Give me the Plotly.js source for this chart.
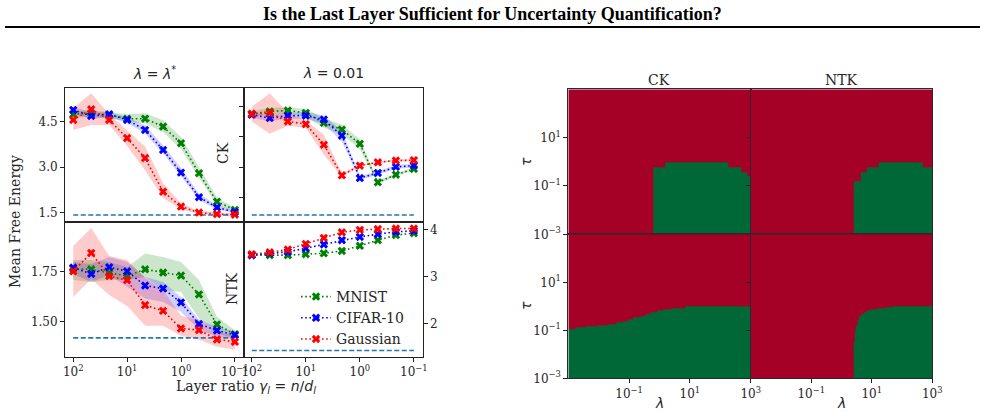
<!DOCTYPE html>
<html>
<head>
<meta charset="utf-8">
<script src="https://cdn.plot.ly/plotly-3.0.1.min.js"></script>
<style>
  html, body { margin: 0; padding: 0; background: #ffffff; }
  #chart { width: 985px; height: 412px; }
</style>
</head>
<body>
<div id="chart"></div>
<script>
// ---------------------------------------------------------------------------
// Data
// ---------------------------------------------------------------------------
// Layer ratio gamma_l = n / d_l, a third of a decade apart
const gammaRatio = [100, 46.4, 21.5, 10, 4.64, 2.15, 1, 0.464, 0.215, 0.1];
const datasetNames = ['MNIST', 'CIFAR-10', 'Gaussian'];
const referenceEnergy = 1.42;

// CK, lambda = lambda*
const ckOptMnist     = [4.75, 4.78, 4.72, 4.60, 4.60, 4.34, 3.79, 2.80, 1.86, 1.59];
const ckOptMnistLo   = [4.65, 4.65, 4.62, 4.50, 4.45, 4.15, 3.60, 2.65, 1.75, 1.53];
const ckOptMnistHi   = [4.85, 4.88, 4.82, 4.75, 4.78, 4.55, 4.00, 3.00, 2.00, 1.65];
const ckOptCifar     = [4.89, 4.69, 4.75, 4.56, 4.23, 3.57, 2.82, 2.01, 1.67, 1.52];
const ckOptCifarLo   = [4.75, 4.60, 4.65, 4.47, 4.10, 3.45, 2.70, 1.92, 1.60, 1.47];
const ckOptCifarHi   = [5.00, 4.80, 4.82, 4.65, 4.38, 3.72, 2.97, 2.12, 1.75, 1.58];
const ckOptGauss     = [4.56, 4.91, 4.56, 3.96, 3.30, 2.19, 1.70, 1.50, 1.45, 1.43];
const ckOptGaussLo   = [4.23, 4.39, 4.39, 3.70, 2.90, 1.98, 1.60, 1.45, 1.40, 1.38];
const ckOptGaussHi   = [4.95, 5.44, 4.75, 4.22, 3.68, 2.47, 1.80, 1.55, 1.50, 1.47];

// CK, lambda = 0.01
const ckFixMnist     = [4.76, 4.84, 4.87, 4.79, 4.46, 4.24, 3.77, 2.50, 2.75, 2.94];
const ckFixMnistLo   = [4.68, 4.74, 4.77, 4.66, 4.30, 4.08, 3.60, 2.44, 2.70, 2.89];
const ckFixMnistHi   = [4.85, 4.95, 4.98, 4.92, 4.62, 4.40, 3.92, 2.56, 2.80, 2.99];
const ckFixCifar     = [4.73, 4.62, 4.70, 4.70, 4.57, 4.04, 2.64, 2.81, 3.01, 3.05];
const ckFixCifarLo   = [4.63, 4.52, 4.60, 4.60, 4.42, 3.85, 2.58, 2.75, 2.95, 2.99];
const ckFixCifarHi   = [4.80, 4.72, 4.80, 4.82, 4.70, 4.20, 2.70, 2.87, 3.07, 3.11];
const ckFixGauss     = [4.76, 4.79, 4.51, 4.42, 3.74, 2.73, 3.05, 3.16, 3.22, 3.23];
const ckFixGaussLo   = [4.51, 4.10, 4.37, 4.30, 3.41, 2.68, 3.02, 3.13, 3.19, 3.20];
const ckFixGaussHi   = [5.00, 5.44, 4.80, 4.55, 4.07, 2.80, 3.08, 3.19, 3.25, 3.26];

// NTK, lambda = lambda*
const ntkOptMnist    = [1.767, 1.763, 1.745, 1.730, 1.763, 1.747, 1.732, 1.637, 1.487, 1.438];
const ntkOptMnistLo  = [1.710, 1.700, 1.710, 1.710, 1.725, 1.660, 1.650, 1.517, 1.442, 1.420];
const ntkOptMnistHi  = [1.810, 1.810, 1.800, 1.775, 1.842, 1.825, 1.800, 1.710, 1.525, 1.458];
const ntkOptCifar    = [1.772, 1.740, 1.774, 1.753, 1.682, 1.667, 1.597, 1.489, 1.457, 1.434];
const ntkOptCifarLo  = [1.740, 1.700, 1.733, 1.675, 1.617, 1.600, 1.550, 1.460, 1.425, 1.417];
const ntkOptCifarHi  = [1.800, 1.790, 1.825, 1.800, 1.725, 1.700, 1.625, 1.510, 1.475, 1.450];
const ntkOptGauss    = [1.753, 1.845, 1.729, 1.709, 1.584, 1.555, 1.467, 1.459, 1.412, 1.400];
const ntkOptGaussLo  = [1.625, 1.715, 1.635, 1.580, 1.480, 1.480, 1.430, 1.410, 1.375, 1.360];
const ntkOptGaussHi  = [1.880, 1.970, 1.830, 1.810, 1.720, 1.660, 1.530, 1.510, 1.450, 1.430];

// NTK, lambda = 0.01
const ntkFixMnist    = [3.46, 3.46, 3.46, 3.48, 3.50, 3.55, 3.66, 3.78, 3.89, 3.93];
const ntkFixCifar    = [3.46, 3.50, 3.53, 3.61, 3.69, 3.78, 3.85, 3.91, 3.96, 3.98];
const ntkFixGauss    = [3.48, 3.52, 3.58, 3.70, 3.83, 3.95, 4.00, 4.02, 4.03, 4.03];

// Phase maps over (lambda, tau): column edges in lambda and, per column,
// the largest tau that still lies in the favourable (green) region.
const ckTopLam  = [0.001, 0.62, 1.6, 190, 490, 790, 1000];
const ckTopTau  = [0.001, 0.62, 1.0, 0.62, 0.385, 0.24];
const ntkTopLam = [0.001, 2.6, 4.2, 6.7, 17.4, 490, 1000];
const ntkTopTau = [0.001, 0.149, 0.385, 0.62, 1.0, 0.62];
const ckLowLam  = [0.001, 0.00166, 0.0037, 0.0089, 0.021, 0.037, 0.062, 0.093, 0.138,
                   0.23, 0.33, 0.51, 0.85, 1.41, 2.5, 7.2, 1000];
const ckLowTau  = [0.113, 0.129, 0.141, 0.155, 0.182, 0.209, 0.245, 0.288,
                   0.339, 0.398, 0.468, 0.562, 0.661, 0.75, 0.83, 1.0];
const ntkLowLam = [0.001, 2.59, 2.79, 3.01, 3.31, 3.69, 4.27, 5.25, 6.79, 9.2, 14.5, 27.4, 49, 1000];
const ntkLowTau = [0.001, 0.0335, 0.087, 0.166, 0.269, 0.372, 0.479, 0.575, 0.676,
                   0.776, 0.851, 0.912, 1.0];

// ---------------------------------------------------------------------------
// Styling helpers
// ---------------------------------------------------------------------------
const W = 985, H = 412;
const px = v => v / W;          // horizontal pixel -> paper
const py = v => 1 - v / H;      // vertical pixel -> paper
const SERIF = 'DejaVu Serif, serif';
const SANS = 'DejaVu Sans, sans-serif';
const INK = '#222222';
const colors = ['#008000', '#0000ff', '#ff0000'];
const bandColors = ['rgba(0,128,0,0.2)', 'rgba(0,0,255,0.18)', 'rgba(255,0,0,0.2)'];

const traces = [];

function addBand(xa, ya, lo, hi, k) {
  traces.push({
    x: gammaRatio, y: lo, xaxis: xa, yaxis: ya, type: 'scatter', mode: 'lines',
    line: {width: 0, color: bandColors[k]}, showlegend: false, hoverinfo: 'skip'
  });
  traces.push({
    x: gammaRatio, y: hi, xaxis: xa, yaxis: ya, type: 'scatter', mode: 'lines',
    line: {width: 0, color: bandColors[k]}, fill: 'tonexty', fillcolor: bandColors[k],
    showlegend: false, hoverinfo: 'skip'
  });
}

function addReference(xa, ya) {
  traces.push({
    x: [gammaRatio[0], gammaRatio[gammaRatio.length - 1]],
    y: [referenceEnergy, referenceEnergy],
    xaxis: xa, yaxis: ya, type: 'scatter', mode: 'lines',
    line: {color: '#1f77b4', width: 1.6, dash: '5px,2.5px'}, showlegend: false
  });
}

function addSeries(xa, ya, values, k, legend) {
  traces.push({
    x: gammaRatio, y: values, xaxis: xa, yaxis: ya, type: 'scatter', mode: 'lines+markers',
    name: datasetNames[k], showlegend: legend, legendrank: k + 1,
    line: {color: colors[k], width: 1.6, dash: '1.6px,2.6px'},
    marker: {symbol: 'x', size: 7.5, color: colors[k], line: {width: 0}}
  });
}

function panel(xa, ya, series, bands, legend) {
  if (bands) bands.forEach((b, k) => addBand(xa, ya, b[0], b[1], k));
  addReference(xa, ya);
  series.forEach((s, k) => addSeries(xa, ya, s, k, legend));
}

panel('x', 'y', [ckOptMnist, ckOptCifar, ckOptGauss],
      [[ckOptMnistLo, ckOptMnistHi], [ckOptCifarLo, ckOptCifarHi], [ckOptGaussLo, ckOptGaussHi]], false);
panel('x2', 'y2', [ckFixMnist, ckFixCifar, ckFixGauss],
      [[ckFixMnistLo, ckFixMnistHi], [ckFixCifarLo, ckFixCifarHi], [ckFixGaussLo, ckFixGaussHi]], false);
panel('x3', 'y3', [ntkOptMnist, ntkOptCifar, ntkOptGauss],
      [[ntkOptMnistLo, ntkOptMnistHi], [ntkOptCifarLo, ntkOptCifarHi], [ntkOptGaussLo, ntkOptGaussHi]], false);
panel('x4', 'y4', [ntkFixMnist, ntkFixCifar, ntkFixGauss], null, true);

// Phase maps: build brick tables from the region boundaries
function regionTable(lamEdges, tauTops) {
  const rows = Array.from(new Set([0.001, 1000].concat(tauTops))).sort((a, b) => a - b);
  const z = [];
  for (let r = 0; r < rows.length - 1; r++) {
    z.push(tauTops.map(t => (rows[r + 1] <= t ? 1 : 0)));
  }
  return {x: lamEdges, y: rows, z: z};
}
function addPhase(xa, ya, lam, tau) {
  const t = regionTable(lam, tau);
  traces.push({
    type: 'heatmap', x: t.x, y: t.y, z: t.z, xaxis: xa, yaxis: ya,
    zmin: 0, zmax: 1, showscale: false, hoverinfo: 'skip',
    colorscale: [[0, '#a50026'], [1, '#006837']]
  });
}
addPhase('x5', 'y5', ckTopLam, ckTopTau);
addPhase('x6', 'y6', ntkTopLam, ntkTopTau);
addPhase('x7', 'y7', ckLowLam, ckLowTau);
addPhase('x8', 'y8', ntkLowLam, ntkLowTau);

// ---------------------------------------------------------------------------
// Axes
// ---------------------------------------------------------------------------
const tickFont = {family: SERIF, size: 12, color: '#262626'};
const gammaTicks = {
  tickvals: [100, 10, 1, 0.1],
  ticktext: ['10<sup>2</sup>', '10<sup>1</sup>', '10<sup>0</sup>', '10<sup>\u22121</sup>']
};
const base = {
  showline: true, mirror: true, linecolor: INK, linewidth: 1,
  showgrid: false, zeroline: false, ticklen: 4, tickwidth: 1, tickcolor: INK,
  tickfont: tickFont, fixedrange: true
};
function gammaAxis(x0, x1, labels) {
  return Object.assign({}, base, gammaTicks, {
    type: 'log', autorange: false, range: [2.153, -1.16],
    domain: [px(x0), px(x1)], ticks: labels ? 'outside' : '', showticklabels: labels
  });
}
function energyAxis(y0, y1, range, vals, text, extra) {
  return Object.assign({}, base, {
    autorange: false, range: range, domain: [py(y1), py(y0)],
    tickvals: vals, ticktext: text, ticks: 'outside', showticklabels: !!text
  }, extra || {});
}
const lamTicks = {
  tickvals: [0.1, 10, 1000],
  ticktext: ['10<sup>\u22121</sup>', '10<sup>1</sup>', '10<sup>3</sup>']
};
const tauTicks = {
  tickvals: [0.001, 0.1, 10],
  ticktext: ['10<sup>\u22123</sup>', '10<sup>\u22121</sup>', '10<sup>1</sup>']
};
function lamAxis(x0, x1, labels) {
  return Object.assign({}, base, lamTicks, {
    type: 'log', autorange: false, range: [-3, 3], domain: [px(x0), px(x1)],
    ticks: labels ? 'outside' : '', showticklabels: labels, linecolor: '#2a2a2a'
  });
}
function tauAxis(y0, y1, labels) {
  return Object.assign({}, base, tauTicks, {
    type: 'log', autorange: false, range: [-3, 3], domain: [py(y1), py(y0)],
    ticks: 'outside', showticklabels: labels, linecolor: '#2a2a2a'
  });
}

const L0 = 65, L1 = 243.5, L2 = 422.5;      // left figure columns
const T0 = 87.5, T1 = 222, T2 = 357;        // left figure rows
const R0 = 568.3, R1 = 750.7, R2 = 932.3;   // phase map columns
const S0 = 89.3, S1 = 234.3, S2 = 378.3;    // phase map rows

const layout = {
  width: W, height: H,
  margin: {l: 0, r: 0, t: 0, b: 0, pad: 0},
  paper_bgcolor: '#ffffff', plot_bgcolor: 'rgba(0,0,0,0)',
  font: {family: SERIF, color: '#262626'},
  showlegend: true,
  legend: {
    x: px(296), y: py(281), xanchor: 'left', yanchor: 'top',
    bgcolor: 'rgba(0,0,0,0)', borderwidth: 0,
    font: {family: SERIF, size: 14, color: '#262626'},
    traceorder: 'normal', itemwidth: 30, tracegroupgap: 0
  },
  xaxis:  Object.assign(gammaAxis(L0, L1, false), {anchor: 'y'}),
  yaxis:  Object.assign(energyAxis(T0, T1, [1.19, 5.63], [1.5, 3.0, 4.5], ['1.5', '3.0', '4.5']), {anchor: 'x'}),
  xaxis2: Object.assign(gammaAxis(L1, L2, false), {anchor: 'y2'}),
  yaxis2: Object.assign(energyAxis(T0, T1, [1.19, 5.63], [2, 3, 4, 5], null), {anchor: 'x2'}),
  xaxis3: Object.assign(gammaAxis(L0, L1, true), {anchor: 'y3'}),
  yaxis3: Object.assign(energyAxis(T1, T2, [1.324, 2.0], [1.5, 1.75], ['1.50', '1.75']), {anchor: 'x3'}),
  xaxis4: Object.assign(gammaAxis(L1, L2, true), {anchor: 'y4'}),
  yaxis4: Object.assign(energyAxis(T1, T2, [1.28, 4.17], [2, 3, 4], ['2', '3', '4'], {side: 'right'}), {anchor: 'x4'}),
  xaxis5: Object.assign(lamAxis(R0, R1, false), {anchor: 'y5'}),
  yaxis5: Object.assign(tauAxis(S0, S1, true), {anchor: 'x5'}),
  xaxis6: Object.assign(lamAxis(R1, R2, false), {anchor: 'y6'}),
  yaxis6: Object.assign(tauAxis(S0, S1, false), {anchor: 'x6'}),
  xaxis7: Object.assign(lamAxis(R0, R1, true), {anchor: 'y7'}),
  yaxis7: Object.assign(tauAxis(S1, S2, true), {anchor: 'x7'}),
  xaxis8: Object.assign(lamAxis(R1, R2, true), {anchor: 'y8'}),
  yaxis8: Object.assign(tauAxis(S1, S2, false), {anchor: 'x8'}),
  shapes: [
    {type: 'line', xref: 'paper', yref: 'paper', x0: px(5), x1: px(980), y0: py(27), y1: py(27),
     line: {color: '#000000', width: 2}}
  ],
  annotations: []
};

function label(text, x, y, opts) {
  layout.annotations.push(Object.assign({
    text: text, xref: 'paper', yref: 'paper', x: px(x), y: py(y),
    xanchor: 'center', yanchor: 'middle', showarrow: false,
    font: {family: SERIF, size: 14, color: '#262626'}
  }, opts || {}));
}

label('<b>Is the Last Layer Sufficient for Uncertainty Quantification?</b>', 492, 14,
      {font: {family: 'Liberation Serif, serif', size: 18, color: '#000000'}});

label('<i>\u03bb</i> = <i>\u03bb</i><sup>*</sup>', 154, 73, {font: {family: SANS, size: 14, color: '#262626'}});
label('<i>\u03bb</i> = 0.01', 333, 73, {font: {family: SANS, size: 14, color: '#262626'}});
label('Mean Free Energy', 15, 222, {textangle: -90});
label('CK', 223, 153, {textangle: -90});
label('NTK', 232, 289, {textangle: -90});
label('Layer ratio <span style="font-family:DejaVu Sans"><i>\u03b3<sub>l</sub></i> = <i>n</i>/<i>d<sub>l</sub></i></span>',
      246, 387);

label('CK', 659, 80);
label('NTK', 841, 80);
label('<i>\u03bb</i>', 659, 403, {font: {family: SANS, size: 14, color: '#262626'}});
label('<i>\u03bb</i>', 841, 403, {font: {family: SANS, size: 14, color: '#262626'}});
label('<i>\u03c4</i>', 526, 162, {textangle: -90, font: {family: SANS, size: 14, color: '#262626'}});
label('<i>\u03c4</i>', 526, 306, {textangle: -90, font: {family: SANS, size: 14, color: '#262626'}});

Plotly.newPlot('chart', traces, layout, {staticPlot: true, displayModeBar: false});
</script>
</body>
</html>
